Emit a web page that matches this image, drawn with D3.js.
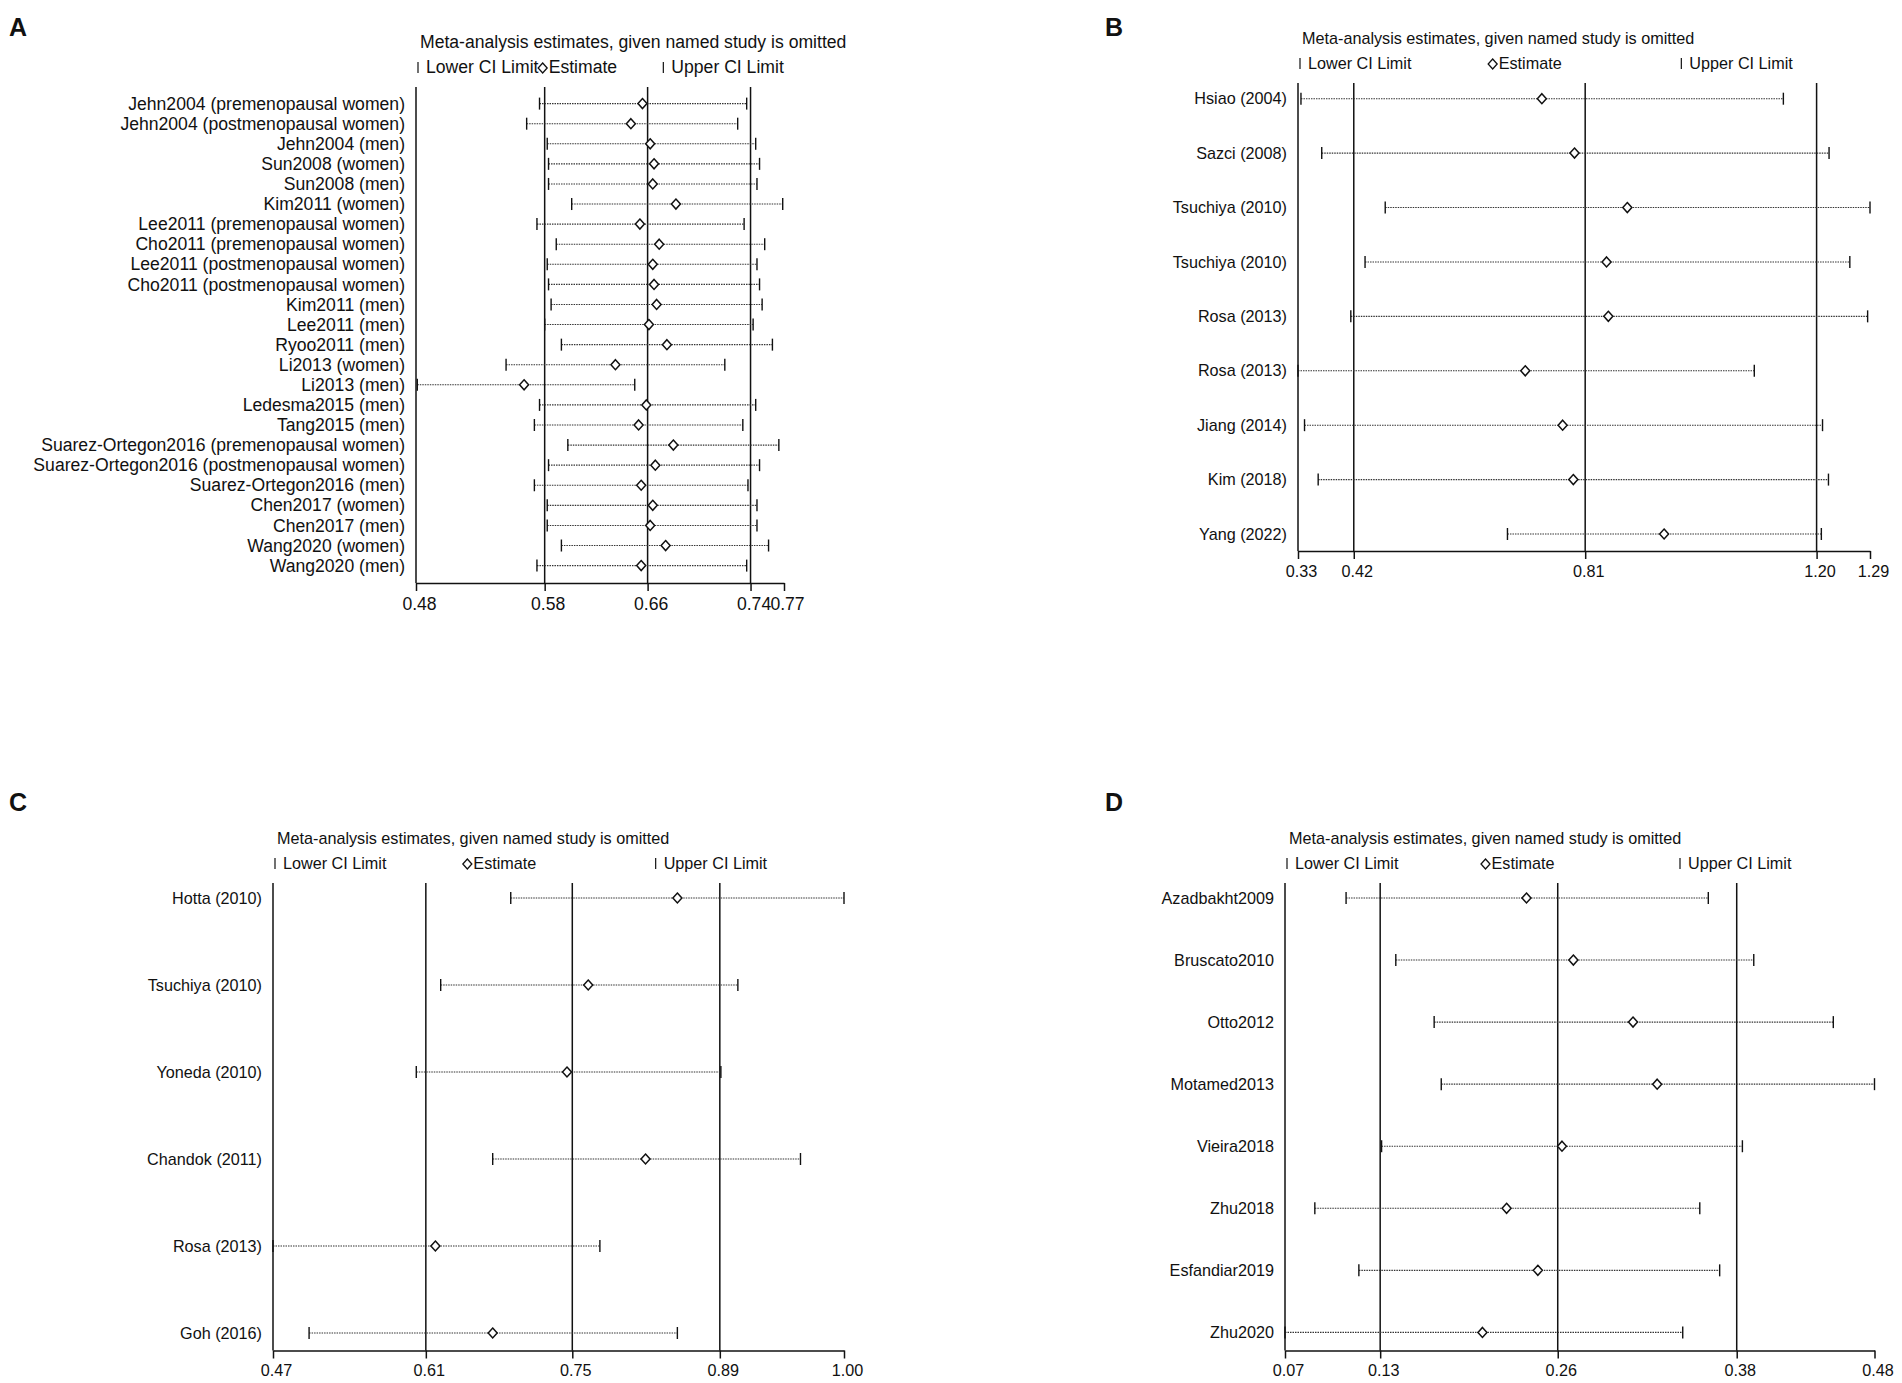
<!DOCTYPE html>
<html>
<head>
<meta charset="utf-8">
<script src="https://cdn.jsdelivr.net/npm/d3@7"></script>
<style>
  body { margin: 0; background: #fff; }
  svg { display: block; font-family: "Liberation Sans", Arial, sans-serif; }
</style>
</head>
<body>
<svg id="chart" width="1902" height="1383"></svg>
<script>
// ---- data ----
var titleText = 'Meta-analysis estimates, given named study is omitted';
var legendText = ['Lower CI Limit', 'Estimate', 'Upper CI Limit'];

// panel A
var labelsA = ['Jehn2004 (premenopausal women)', 'Jehn2004 (postmenopausal women)', 'Jehn2004 (men)',
    'Sun2008 (women)', 'Sun2008 (men)', 'Kim2011 (women)', 'Lee2011 (premenopausal women)',
    'Cho2011 (premenopausal women)', 'Lee2011 (postmenopausal women)', 'Cho2011 (postmenopausal women)',
    'Kim2011 (men)', 'Lee2011 (men)', 'Ryoo2011 (men)', 'Li2013 (women)', 'Li2013 (men)',
    'Ledesma2015 (men)', 'Tang2015 (men)', 'Suarez-Ortegon2016 (premenopausal women)',
    'Suarez-Ortegon2016 (postmenopausal women)', 'Suarez-Ortegon2016 (men)', 'Chen2017 (women)',
    'Chen2017 (men)', 'Wang2020 (women)', 'Wang2020 (men)'];
var lowerA = [0.576, 0.566, 0.582, 0.583, 0.583, 0.601, 0.574, 0.589, 0.582, 0.583, 0.585, 0.580,
    0.593, 0.550, 0.481, 0.576, 0.572, 0.598, 0.583, 0.572, 0.582, 0.582, 0.593, 0.574];
var estA = [0.656, 0.647, 0.662, 0.665, 0.664, 0.682, 0.654, 0.669, 0.664, 0.665, 0.667, 0.661,
    0.675, 0.635, 0.564, 0.659, 0.653, 0.680, 0.666, 0.655, 0.664, 0.662, 0.674, 0.655];
var upperA = [0.737, 0.730, 0.744, 0.747, 0.745, 0.765, 0.735, 0.751, 0.745, 0.747, 0.749, 0.742,
    0.757, 0.720, 0.650, 0.744, 0.734, 0.762, 0.747, 0.738, 0.745, 0.745, 0.754, 0.737];
var overallA = [0.580, 0.660, 0.740];
var rangeA = [0.480, 0.766];

// panel B
var labelsB = ['Hsiao (2004)', 'Sazci (2008)', 'Tsuchiya (2010)', 'Tsuchiya (2010)', 'Rosa (2013)',
    'Rosa (2013)', 'Jiang (2014)', 'Kim (2018)', 'Yang (2022)'];
var lowerB = [0.331, 0.366, 0.473, 0.439, 0.415, 0.326, 0.337, 0.360, 0.679];
var estB = [0.737, 0.792, 0.881, 0.846, 0.849, 0.709, 0.772, 0.790, 0.943];
var upperB = [1.144, 1.221, 1.290, 1.256, 1.286, 1.095, 1.210, 1.220, 1.208];
var overallB = [0.420, 0.810, 1.200];
var rangeB = [0.326, 1.290];

// panel C
var labelsC = ['Hotta (2010)', 'Tsuchiya (2010)', 'Yoneda (2010)', 'Chandok (2011)', 'Rosa (2013)', 'Goh (2016)'];
var lowerC = [0.690, 0.624, 0.601, 0.673, 0.466, 0.500];
var estC = [0.847, 0.763, 0.743, 0.817, 0.619, 0.673];
var upperC = [1.004, 0.904, 0.888, 0.963, 0.774, 0.847];
var overallC = [0.610, 0.748, 0.887];
var rangeC = [0.466, 1.004];

// panel D
var labelsD = ['Azadbakht2009', 'Bruscato2010', 'Otto2012', 'Motamed2013', 'Vieira2018', 'Zhu2018',
    'Esfandiar2019', 'Zhu2020'];
var lowerD = [0.108, 0.143, 0.170, 0.175, 0.133, 0.086, 0.117, 0.065];
var estD = [0.235, 0.268, 0.310, 0.327, 0.260, 0.221, 0.243, 0.204];
var upperD = [0.363, 0.395, 0.451, 0.480, 0.387, 0.357, 0.371, 0.345];
var overallD = [0.132, 0.257, 0.383];
var rangeD = [0.065, 0.480];

var svg = d3.select('#chart');
var fmt = d3.format('.2f');
var ink = '#111';

// diamond marker
function diamondPath(cx, cy) {
    var p = d3.path();
    p.moveTo(cx, cy - 5);
    p.lineTo(cx + 4.5, cy);
    p.lineTo(cx, cy + 5);
    p.lineTo(cx - 4.5, cy);
    p.closePath();
    return p.toString();
}

function drawPanel(o) {
    var g = svg.append('g');
    var n = o.labels.length;
    var x = d3.scaleLinear().domain(o.range).range([o.left, o.right]);
    var y = d3.scaleLinear().domain([0, n - 1]).range([o.rowTop, o.rowBottom]);

    // panel letter
    g.append('text')
        .attr('x', o.letterX).attr('y', o.letterY)
        .attr('font-size', 25).attr('font-weight', 'bold')
        .attr('fill', ink)
        .text(o.letter);

    // title
    g.append('text')
        .attr('x', o.left + 4).attr('y', o.plotTop - 39)
        .attr('font-size', o.fs).attr('fill', ink)
        .text(titleText);

    // legend, three equal columns over the plot width
    var colW = (o.right - o.left) / 3;
    var legY = o.plotTop - 14;
    legendText.forEach(function(t, i) {
        var cx = o.left + colW * i;
        if (i == 1) {
            g.append('path')
                .attr('d', diamondPath(cx + 4, legY - 5))
                .attr('fill', '#fff').attr('stroke', ink).attr('stroke-width', 1.3);
        } else {
            g.append('line')
                .attr('x1', cx + 2).attr('x2', cx + 2)
                .attr('y1', legY - 11).attr('y2', legY)
                .attr('stroke', ink).attr('stroke-width', 1.2);
        }
        g.append('text')
            .attr('x', cx + 10).attr('y', legY)
            .attr('font-size', o.fs).attr('fill', ink)
            .text(t);
    });

    // left axis line
    g.append('line')
        .attr('x1', o.left).attr('x2', o.left)
        .attr('y1', o.plotTop).attr('y2', o.axisY)
        .attr('stroke', ink).attr('stroke-width', 1.5);

    // overall lower / estimate / upper reference lines
    g.selectAll('.ref')
        .data(o.overall)
        .enter()
        .append('line')
        .attr('class', 'ref')
        .attr('x1', function(d) { return x(d); })
        .attr('x2', function(d) { return x(d); })
        .attr('y1', o.plotTop).attr('y2', o.axisY)
        .attr('stroke', ink).attr('stroke-width', 1.5);

    var idx = d3.range(n);

    // dotted CI lines
    g.selectAll('.ci')
        .data(idx)
        .enter()
        .append('line')
        .attr('class', 'ci')
        .attr('x1', function(i) { return x(o.lower[i]); })
        .attr('x2', function(i) { return x(o.upper[i]); })
        .attr('y1', function(i) { return y(i); })
        .attr('y2', function(i) { return y(i); })
        .attr('stroke', '#333').attr('stroke-width', 1.1)
        .attr('stroke-dasharray', '1.5 1');

    // caps
    [o.lower, o.upper].forEach(function(arr, k) {
        g.selectAll('.cap' + k)
            .data(idx)
            .enter()
            .append('line')
            .attr('class', 'cap' + k)
            .attr('x1', function(i) { return x(arr[i]); })
            .attr('x2', function(i) { return x(arr[i]); })
            .attr('y1', function(i) { return y(i) - 6; })
            .attr('y2', function(i) { return y(i) + 6; })
            .attr('stroke', ink).attr('stroke-width', 1.4);
    });

    // estimates
    g.selectAll('.est')
        .data(idx)
        .enter()
        .append('path')
        .attr('class', 'est')
        .attr('d', function(i) { return diamondPath(x(o.est[i]), y(i)); })
        .attr('fill', '#fff').attr('stroke', ink).attr('stroke-width', 1.5);

    // study labels
    var yAxis = d3.axisLeft(y)
        .tickValues(idx)
        .tickFormat(function(i) { return o.labels[i]; })
        .tickSize(0)
        .tickPadding(11);
    var ya = g.append('g')
        .attr('transform', 'translate(' + o.left + ',0)')
        .call(yAxis);
    ya.select('.domain').remove();
    ya.selectAll('text')
        .attr('font-size', o.fs)
        .attr('font-family', '"Liberation Sans", Arial, sans-serif')
        .attr('fill', ink);

    // x axis
    var ticks = [o.range[0]].concat(o.overall, [o.range[1]]);
    var xAxis = d3.axisBottom(x)
        .tickValues(ticks)
        .tickFormat(fmt)
        .tickSize(8)
        .tickSizeOuter(0)
        .tickPadding(o.tickPad);
    var xa = g.append('g')
        .attr('transform', 'translate(0,' + o.axisY + ')')
        .call(xAxis);
    xa.select('.domain').attr('stroke', ink).attr('stroke-width', 1.5);
    xa.selectAll('.tick line').attr('stroke', ink).attr('stroke-width', 1.5);
    xa.selectAll('text')
        .attr('dx', 3)
        .attr('font-size', o.fs)
        .attr('font-family', '"Liberation Sans", Arial, sans-serif')
        .attr('fill', ink);
}

drawPanel({letter: 'A', letterX: 9, letterY: 36, fs: 17.6,
    left: 416, right: 784, plotTop: 87, axisY: 583, rowTop: 103.6, rowBottom: 565.6, tickPad: 7,
    labels: labelsA, lower: lowerA, est: estA, upper: upperA, overall: overallA, range: rangeA});

drawPanel({letter: 'B', letterX: 1105, letterY: 36, fs: 16.2,
    left: 1298, right: 1870, plotTop: 83, axisY: 551, rowTop: 98.7, rowBottom: 534, tickPad: 6,
    labels: labelsB, lower: lowerB, est: estB, upper: upperB, overall: overallB, range: rangeB});

drawPanel({letter: 'C', letterX: 9, letterY: 811, fs: 16.2,
    left: 273, right: 844, plotTop: 883, axisY: 1350.5, rowTop: 898, rowBottom: 1333, tickPad: 6,
    labels: labelsC, lower: lowerC, est: estC, upper: upperC, overall: overallC, range: rangeC});

drawPanel({letter: 'D', letterX: 1105, letterY: 811, fs: 16.2,
    left: 1285, right: 1874.5, plotTop: 883, axisY: 1350.5, rowTop: 898, rowBottom: 1332.4, tickPad: 6,
    labels: labelsD, lower: lowerD, est: estD, upper: upperD, overall: overallD, range: rangeD});
</script>
</body>
</html>
